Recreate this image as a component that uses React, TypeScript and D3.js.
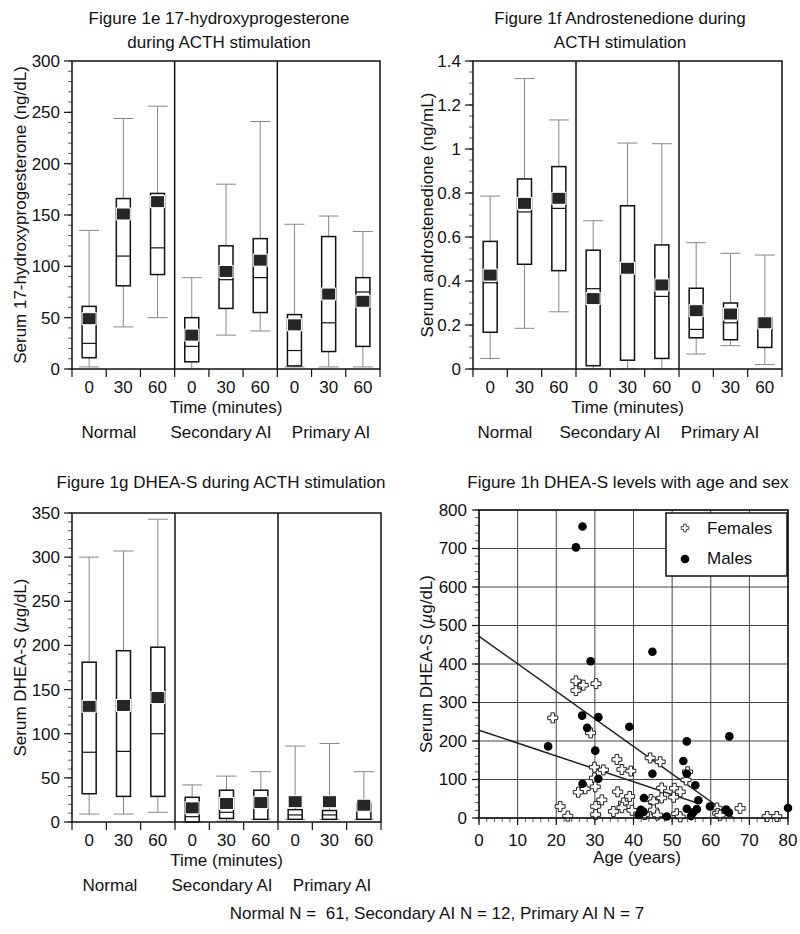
import React from "react";
import * as d3 from "d3";

const groups = ["Normal", "Secondary AI", "Primary AI"];
const times = ["0", "30", "60"];

// Figure 1e 17-hydroxyprogesterone (ng/dL)
const ohpLow = [2, 41, 50, 0, 33, 37, 2, 2, 2];
const ohpQ1 = [11, 81, 92, 7, 59, 55, 3, 17, 22];
const ohpMed = [25, 110, 118, 22, 87, 89, 18, 45, 75];
const ohpQ3 = [61, 166, 171, 50, 120, 127, 53, 129, 89];
const ohpHigh = [135, 244, 256, 89, 180, 241, 141, 149, 134];
const ohpMean = [49, 151, 163, 33, 95, 106, 43, 73, 66];

// Figure 1f androstenedione (ng/mL)
const andLow = [0.048, 0.185, 0.26, 0, 0, 0, 0.068, 0.106, 0.02];
const andQ1 = [0.167, 0.476, 0.447, 0.015, 0.04, 0.048, 0.142, 0.133, 0.098];
const andMed = [0.392, 0.714, 0.73, 0.365, 0.46, 0.33, 0.18, 0.21, 0.23];
const andQ3 = [0.58, 0.864, 0.92, 0.54, 0.742, 0.564, 0.367, 0.3, 0.232];
const andHigh = [0.786, 1.32, 1.132, 0.674, 1.027, 1.024, 0.574, 0.526, 0.518];
const andMean = [0.427, 0.753, 0.776, 0.32, 0.458, 0.382, 0.265, 0.25, 0.21];

// Figure 1g DHEA-S (µg/dL)
const dheaLow = [9, 9, 11, 0, 1, 3, 3, 3, 3];
const dheaQ1 = [32, 29, 29, 0, 4, 3, 3, 3, 3];
const dheaMed = [79, 80, 100, 6, 11, 17, 8, 8, 17];
const dheaQ3 = [181, 194, 198, 28, 36, 36, 14, 13, 21];
const dheaHigh = [300, 307, 343, 42, 52, 57, 86, 89, 57];
const dheaMean = [131, 132, 141, 16, 21, 22, 23, 23, 19];

// Figure 1h DHEA-S vs age: [age, DHEA-S]
const males = [
  [26.8, 757], [25.1, 703], [28.9, 407], [44.9, 432], [26.7, 266], [30.9, 262],
  [28.0, 234], [38.9, 237], [17.9, 186], [30.1, 175], [53.8, 199], [64.8, 212],
  [52.9, 148], [44.9, 115], [53.8, 115], [26.8, 89], [30.9, 102], [56.0, 85],
  [56.8, 46], [42.7, 52], [59.8, 30], [53.8, 24], [56.4, 23], [55.5, 15],
  [54.9, 5], [48.6, 4], [41.9, 21], [42.6, 16], [41.3, 8], [64.0, 22],
  [64.7, 14], [80.0, 26],
];
const females = [
  [25.1, 356], [27.0, 345], [30.3, 349], [25.1, 331], [19.1, 260], [28.9, 221],
  [35.7, 152], [44.3, 156], [46.9, 146], [29.9, 132], [32.2, 125], [37.0, 126],
  [39.3, 122], [54.0, 120], [29.9, 104], [25.7, 67], [27.5, 76], [30.1, 81],
  [35.9, 68], [39.0, 56], [37.4, 39], [31.8, 47], [21.0, 30], [23.0, 5],
  [30.2, 30], [30.2, 9], [34.8, 17], [37.0, 27], [39.6, 20], [44.5, 48],
  [47.3, 78], [47.3, 52], [50.6, 77], [52.1, 68], [50.4, 54], [45.2, 42],
  [45.2, 21], [46.2, 8], [51.2, 11], [52.1, 3], [53.6, 99], [61.6, 26],
  [61.8, 12], [62.4, 7], [67.6, 25], [74.6, 4], [77.1, 4], [42.9, 9],
];
const maleFit = [[0, 472], [66, 0]];
const femaleFit = [[0, 228], [56.5, 39]];
const ageTicks = [0, 10, 20, 30, 40, 50, 60, 70, 80];
const dheaAgeTicks = [0, 100, 200, 300, 400, 500, 600, 700, 800];

const FONT = "'Liberation Sans', Arial, Helvetica, sans-serif";
const FS = 17;

type BoxProps = {
  x0: number; x1: number; y0: number; y1: number;
  max: number; step: number; minor: number; fmt: (v: number) => string;
  low: number[]; q1: number[]; med: number[]; q3: number[]; high: number[]; mean: number[];
  titleLines: string[]; titleX: number; titleY: number;
  yLabel: React.ReactNode; yLabelX: number;
  groupX: number[];
};

function BoxPanel(p: BoxProps) {
  const idx = d3.range(9);
  const x = d3.scaleBand<number>().domain(idx).range([p.x0, p.x1]).padding(0);
  const y = d3.scaleLinear().domain([0, p.max]).range([p.y1, p.y0]);
  const bw = x.bandwidth();
  const boxW = 14;
  const capW = 20;
  const nMaj = Math.round(p.max / p.step);
  const majors = d3.range(nMaj + 1).map((i) => i * p.step);
  const nMin = Math.round(p.max / p.minor);
  const minors = d3.range(nMin + 1).map((i) => i * p.minor);
  const boundaries = d3.range(10).map((i) => p.x0 + i * bw);
  const cx = (i: number) => (x(i) as number) + bw / 2;
  const midX = (p.x0 + p.x1) / 2;
  const midY = (p.y0 + p.y1) / 2;
  return (
    <g fontFamily={FONT} fontSize={FS} fill="#111">
      {p.titleLines.map((t, i) => (
        <text key={t} x={p.titleX} y={p.titleY + i * 24} textAnchor="middle">{t}</text>
      ))}
      {minors.map((v) => (
        <line key={"mi" + v} x1={p.x0 - 4} x2={p.x0} y1={y(v)} y2={y(v)} stroke="#333" strokeWidth={0.8} />
      ))}
      {majors.map((v) => (
        <g key={"ma" + v}>
          <line x1={p.x0 - 8} x2={p.x0} y1={y(v)} y2={y(v)} stroke="#111" strokeWidth={1.2} />
          <text x={p.x0 - 12} y={y(v)} dy="0.35em" textAnchor="end">{p.fmt(v)}</text>
        </g>
      ))}
      {boundaries.map((bx, i) => (
        <line key={"xt" + i} x1={bx} x2={bx} y1={p.y1} y2={p.y1 + 8} stroke="#111" strokeWidth={1.2} />
      ))}
      {idx.map((i) => (
        <text key={"xl" + i} x={cx(i)} y={p.y1 + 24} textAnchor="middle">{times[i % 3]}</text>
      ))}
      <text x={midX} y={p.y1 + 44} textAnchor="middle">Time (minutes)</text>
      {groups.map((g, i) => (
        <text key={g} x={p.groupX[i]} y={p.y1 + 69} textAnchor="middle">{g}</text>
      ))}
      {[3, 6].map((i) => (
        <line key={"dv" + i} x1={boundaries[i]} x2={boundaries[i]} y1={p.y0} y2={p.y1} stroke="#111" strokeWidth={1.5} />
      ))}
      {idx.map((i) => {
        const c = cx(i);
        return (
          <g key={"b" + i}>
            <line x1={c} x2={c} y1={y(p.high[i])} y2={y(p.q3[i])} stroke="#888" strokeWidth={1} />
            <line x1={c} x2={c} y1={y(p.q1[i])} y2={y(p.low[i])} stroke="#888" strokeWidth={1} />
            <line x1={c - capW / 2} x2={c + capW / 2} y1={y(p.high[i])} y2={y(p.high[i])} stroke="#888" strokeWidth={1} />
            <line x1={c - capW / 2} x2={c + capW / 2} y1={y(p.low[i])} y2={y(p.low[i])} stroke="#888" strokeWidth={1} />
            <rect x={c - boxW / 2} y={y(p.q3[i])} width={boxW} height={Math.max(0.5, y(p.q1[i]) - y(p.q3[i]))} fill="#fff" stroke="#111" strokeWidth={1.5} />
            <line x1={c - boxW / 2} x2={c + boxW / 2} y1={y(p.med[i])} y2={y(p.med[i])} stroke="#111" strokeWidth={1.2} />
            <rect x={c - boxW / 2} y={y(p.mean[i]) - 6} width={boxW} height={12} fill="#262626" stroke="#fff" strokeWidth={1} />
          </g>
        );
      })}
      <rect x={p.x0} y={p.y0} width={p.x1 - p.x0} height={p.y1 - p.y0} fill="none" stroke="#111" strokeWidth={1.5} />
      <text transform={`translate(${p.yLabelX},${midY}) rotate(-90)`} textAnchor="middle">{p.yLabel}</text>
    </g>
  );
}

function plusPath(a: number, w: number) {
  return `M${-w},${-a}L${w},${-a}L${w},${-w}L${a},${-w}L${a},${w}L${w},${w}L${w},${a}L${-w},${a}L${-w},${w}L${-a},${w}L${-a},${-w}L${-w},${-w}Z`;
}

function ScatterPanel() {
  const x0 = 479, x1 = 788, y0 = 510, y1 = 818;
  const x = d3.scaleLinear().domain([0, 80]).range([x0, x1]);
  const y = d3.scaleLinear().domain([0, 800]).range([y1, y0]);
  const line = d3.line<number[]>().x((d) => x(d[0])).y((d) => y(d[1]));
  const yMinor = d3.range(0, 801, 20);
  const xMinor = d3.range(0, 81, 2);
  const cross = plusPath(5, 1.8);
  return (
    <g fontFamily={FONT} fontSize={FS} fill="#111">
      <text x={628} y={488} textAnchor="middle">Figure 1h DHEA-S levels with age and sex</text>
      {ageTicks.map((t) => (
        <line key={"gx" + t} x1={x(t)} x2={x(t)} y1={y0} y2={y1} stroke="#444" strokeWidth={1} />
      ))}
      {dheaAgeTicks.map((t) => (
        <line key={"gy" + t} x1={x0} x2={x1} y1={y(t)} y2={y(t)} stroke="#444" strokeWidth={1} />
      ))}
      {yMinor.map((t) => (
        <line key={"ym" + t} x1={x0 - 4} x2={x0} y1={y(t)} y2={y(t)} stroke="#333" strokeWidth={0.8} />
      ))}
      {xMinor.map((t) => (
        <line key={"xm" + t} x1={x(t)} x2={x(t)} y1={y1} y2={y1 + 4} stroke="#333" strokeWidth={0.8} />
      ))}
      {dheaAgeTicks.map((t) => (
        <g key={"yt" + t}>
          <line x1={x0 - 7} x2={x0} y1={y(t)} y2={y(t)} stroke="#111" strokeWidth={1.2} />
          <text x={x0 - 12} y={y(t)} dy="0.35em" textAnchor="end">{t}</text>
        </g>
      ))}
      {ageTicks.map((t) => (
        <g key={"xt" + t}>
          <line x1={x(t)} x2={x(t)} y1={y1} y2={y1 + 7} stroke="#111" strokeWidth={1.2} />
          <text x={x(t)} y={y1 + 16} dy="0.7em" textAnchor="middle">{t}</text>
        </g>
      ))}
      <text x={637} y={863} textAnchor="middle">Age (years)</text>
      <text transform={`translate(432,${(y0 + y1) / 2}) rotate(-90)`} textAnchor="middle">
        Serum DHEA-S (<tspan fontStyle="italic">µ</tspan>g/dL)
      </text>
      <path d={line(maleFit) as string} fill="none" stroke="#222" strokeWidth={1.5} />
      <path d={line(femaleFit) as string} fill="none" stroke="#222" strokeWidth={1.5} />
      {females.map((d, i) => (
        <path key={"f" + i} d={cross} transform={`translate(${x(d[0])},${y(d[1])})`} fill="#fff" stroke="#222" strokeWidth={1} />
      ))}
      {males.map((d, i) => (
        <circle key={"m" + i} cx={x(d[0])} cy={y(d[1])} r={4.3} fill="#000" />
      ))}
      <rect x={x0} y={y0} width={x1 - x0} height={y1 - y0} fill="none" stroke="#111" strokeWidth={1.5} />
      <rect x={666} y={513} width={121} height={63} fill="#fff" stroke="#111" strokeWidth={1.5} />
      <path d={plusPath(3.8, 1.4)} transform="translate(685,528)" fill="#fff" stroke="#444" strokeWidth={1} />
      <text x={707} y={528} dy="0.35em">Females</text>
      <circle cx={685} cy={559} r={4.3} fill="#000" />
      <text x={707} y={558} dy="0.35em">Males</text>
    </g>
  );
}

export default function App() {
  const f1 = d3.format(".1~f");
  const fi = d3.format("d");
  return (
    <svg width={800} height={934} style={{ position: "absolute", left: 0, top: 0, background: "#fff" }}>
      <rect width={800} height={934} fill="#fff" />
      <BoxPanel
        x0={72} x1={380} y0={61} y1={369} max={300} step={50} minor={10} fmt={fi}
        low={ohpLow} q1={ohpQ1} med={ohpMed} q3={ohpQ3} high={ohpHigh} mean={ohpMean}
        titleLines={["Figure 1e 17-hydroxyprogesterone", "during ACTH stimulation"]} titleX={219} titleY={24}
        yLabel="Serum 17-hydroxyprogesterone (ng/dL)" yLabelX={26}
        groupX={[109, 221, 331]}
      />
      <BoxPanel
        x0={473} x1={782} y0={61} y1={369} max={1.4} step={0.2} minor={0.05} fmt={f1}
        low={andLow} q1={andQ1} med={andMed} q3={andQ3} high={andHigh} mean={andMean}
        titleLines={["Figure 1f Androstenedione during", "ACTH stimulation"]} titleX={620} titleY={24}
        yLabel="Serum androstenedione (ng/mL)" yLabelX={433}
        groupX={[505, 610, 720]}
      />
      <BoxPanel
        x0={72} x1={381} y0={513} y1={822} max={350} step={50} minor={10} fmt={fi}
        low={dheaLow} q1={dheaQ1} med={dheaMed} q3={dheaQ3} high={dheaHigh} mean={dheaMean}
        titleLines={["Figure 1g DHEA-S during ACTH stimulation"]} titleX={221} titleY={488}
        yLabel={<>Serum DHEA-S (<tspan fontStyle="italic">µ</tspan>g/dL)</>} yLabelX={26}
        groupX={[110, 222, 332]}
      />
      <ScatterPanel />
      <text x={437} y={919} textAnchor="middle" fontFamily={FONT} fontSize={FS} fill="#111">
        {"Normal N =\u00a0 61, Secondary AI N = 12, Primary AI N = 7"}
      </text>
    </svg>
  );
}
